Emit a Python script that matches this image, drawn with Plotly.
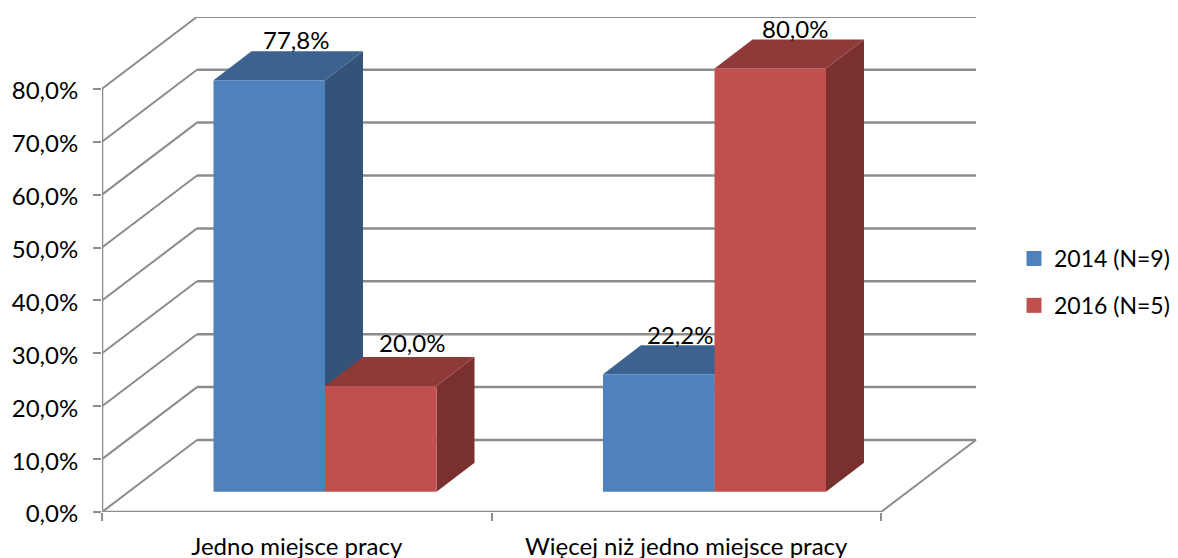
import plotly.graph_objects as go

categories = ["Jedno miejsce pracy", "Więcej niż jedno miejsce pracy"]
series_names = ["2014 (N=9)", "2016 (N=5)"]
values_2014 = [77.8, 22.2]
values_2016 = [20.0, 80.0]
labels_2014 = ["77,8%", "22,2%"]
labels_2016 = ["20,0%", "80,0%"]
y_ticks = [0, 10, 20, 30, 40, 50, 60, 70, 80]
y_tick_labels = ["0,0%", "10,0%", "20,0%", "30,0%", "40,0%", "50,0%", "60,0%", "70,0%", "80,0%"]

# pixel scale of the front plane, used only to work out the fake 3d offsets
PX_X = 389.5
PX_Y = 5.29

WALL_DX = 95 / PX_X
WALL_DY = 72 / PX_Y
BAR_DX = 28.25 / PX_X
BAR_DY = 20.3 / PX_Y
DEPTH_DX = 38 / PX_X
DEPTH_DY = 29 / PX_Y
BAR_W = 111.5 / PX_X

GRID = "#8c8c8c"
BLUE = ["#4f81bd", "#3c6290", "#335379"]
RED = ["#c0504d", "#8e3a38", "#7a302e"]
FONT = dict(family="Lato", size=24, color="black")

# nudges of the value labels, in pixels from the middle of the bar's back edge
nudge_2014 = [(-11, 12), (-17, 11)]
nudge_2016 = [(-7, 14), (-13, 11)]


def line(x0, y0, x1, y1, width=2.5):
    return dict(type="line", x0=x0, y0=y0, x1=x1, y1=y1, layer="below",
                line=dict(color=GRID, width=width))


def poly(points, color):
    path = "M" + " L".join(f"{x},{y}" for x, y in points) + " Z"
    return dict(type="path", path=path, fillcolor=color, layer="below", line=dict(width=0))


shapes = []
annotations = []
x_end = len(categories)

for tick in y_ticks:
    shapes.append(line(0, tick, WALL_DX, tick + WALL_DY, 2))
    shapes.append(line(WALL_DX, tick + WALL_DY, x_end + WALL_DX, tick + WALL_DY))

shapes.append(line(x_end, 0, x_end + WALL_DX, WALL_DY, 2))
shapes.append(line(0, 0, 0, y_ticks[-1]))
shapes.append(line(0, 0, x_end, 0))

fig = go.Figure()

group_gap = (1 - 2 * BAR_W) / 2
series = [
    (series_names[0], values_2014, labels_2014, nudge_2014, BLUE, 0),
    (series_names[1], values_2016, labels_2016, nudge_2016, RED, 1),
]

# sides and tops are drawn under the bar fronts, left to right
for i in range(len(categories)):
    for name, values, labels, nudge, colors, pos in series:
        left = i + group_gap + pos * BAR_W + BAR_DX
        right = left + BAR_W
        top = values[i] + BAR_DY
        shapes.append(poly([(right, BAR_DY), (right + DEPTH_DX, BAR_DY + DEPTH_DY),
                            (right + DEPTH_DX, top + DEPTH_DY), (right, top)], colors[2]))
        shapes.append(poly([(left, top), (left + DEPTH_DX, top + DEPTH_DY),
                            (right + DEPTH_DX, top + DEPTH_DY), (right, top)], colors[1]))
        annotations.append(dict(
            x=(left + right) / 2 + DEPTH_DX, y=top + DEPTH_DY, text=labels[i],
            showarrow=False, font=FONT, xanchor="center", yanchor="middle",
            xshift=nudge[i][0], yshift=nudge[i][1],
        ))

for name, values, labels, nudge, colors, pos in series:
    fig.add_trace(go.Bar(
        x=[i + group_gap + (pos + 0.5) * BAR_W + BAR_DX for i in range(len(categories))],
        y=values,
        base=BAR_DY,
        width=BAR_W,
        marker=dict(color=colors[0], line=dict(width=0)),
        showlegend=False,
        hoverinfo="skip",
    ))
    # legend entry with the square size of the original
    fig.add_trace(go.Scatter(
        x=[None], y=[None], mode="markers", name=name, legendgroup=name,
        marker=dict(symbol="square", size=15, color=colors[0]),
    ))

# the page body has an 8px margin, so the figure is 8px smaller than the window
fig.update_layout(
    width=1170,
    height=550,
    autosize=False,
    margin=dict(l=94, r=201, t=9, b=46, autoexpand=False),
    paper_bgcolor="white",
    plot_bgcolor="white",
    font=FONT,
    barmode="overlay",
    shapes=shapes,
    annotations=annotations,
    legend=dict(x=(1006 - 94) / 875, xanchor="left", xref="paper",
                y=(504 - 274) / 495, yanchor="middle",
                font=dict(family="Lato", size=23, color="black"), tracegroupgap=14),
    xaxis=dict(
        range=[0, 875 / PX_X],
        tickmode="array",
        tickvals=[0.5, 1.5],
        ticktext=categories,
        ticks="",
        ticklabelstandoff=18,
        showgrid=False,
        zeroline=False,
        showline=False,
        minor=dict(tickmode="array", tickvals=[0, 1, 2], ticks="outside", ticklen=8,
                   tickcolor=GRID, tickwidth=2, showgrid=False),
    ),
    yaxis=dict(
        range=[0, 495 / PX_Y],
        tickmode="array",
        tickvals=y_ticks,
        ticktext=y_tick_labels,
        ticks="outside",
        ticklen=8,
        tickcolor=GRID,
        tickwidth=2,
        ticklabelstandoff=10,
        ticklabelshift=2,
        showgrid=False,
        zeroline=False,
        showline=False,
    ),
)

fig.write_html("out.html")
